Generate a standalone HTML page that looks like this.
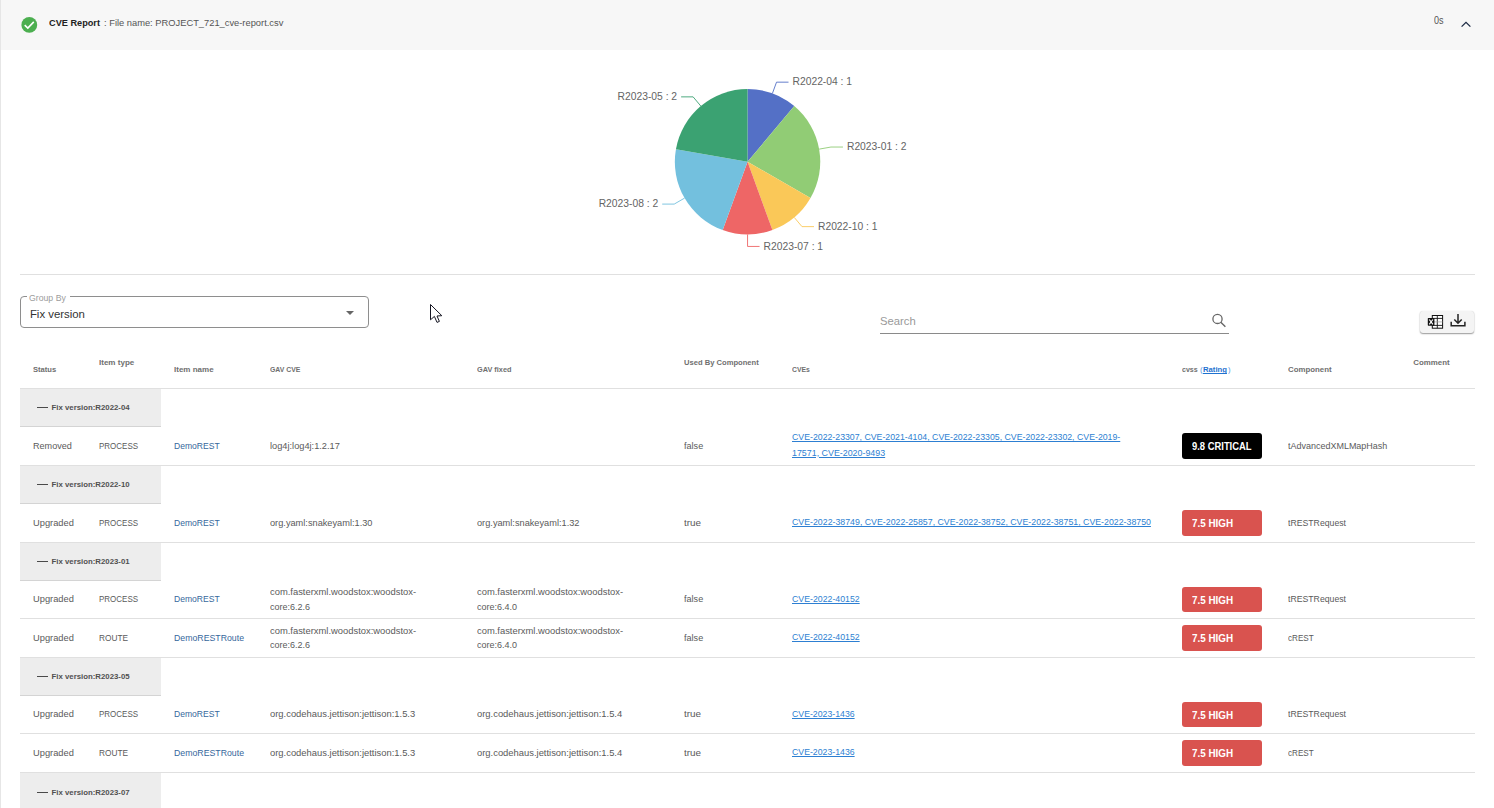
<!DOCTYPE html>
<html><head><meta charset="utf-8">
<style>
*{box-sizing:border-box;margin:0;padding:0}
html,body{width:1494px;height:808px;overflow:hidden;background:#fff}
body{position:relative;font-family:"Liberation Sans",sans-serif;color:#555}
.a{position:absolute}
.t{position:absolute;height:0;line-height:0;white-space:nowrap;transform-origin:0 0}
.hl{position:absolute;height:1px;background:#e0e0e0}
.grp{position:absolute;left:20px;width:141px;background:#ededed;border-bottom:1px solid #d4d4d4}
.dash{position:absolute;left:36.5px;width:11px;height:1px;background:#4a4a4a}
.bdg{position:absolute;left:1182px;width:80px;height:25.5px;border-radius:3px;background:#d9534f}
.crit{background:#000}
svg text{font-family:"Liberation Sans",sans-serif}
</style></head>
<body>
<div class="a" style="left:0;top:0;width:1px;height:808px;background:#e6e6e6"></div>
<div class="a" style="left:1px;top:0;width:1493px;height:49.5px;background:#f7f7f7"></div>
<svg class="a" style="left:21px;top:17px" width="17" height="17" viewBox="0 0 17 17">
<circle cx="8.3" cy="7.9" r="7.9" fill="#4caf50"/>
<path d="M3.7 8.2 L6.8 11.1 L12.8 4.9" fill="none" stroke="#fff" stroke-width="1.6"/>
</svg>
<svg class="a" style="left:1458px;top:18px" width="16" height="12"><polyline points="3.6,8.6 8,4.4 12.4,8.6" fill="none" stroke="#1c2a44" stroke-width="1.3"/></svg>

<svg class="a" style="left:0;top:0" width="1494" height="274">
<path d="M747.55 161.75 L747.55 89.05 A72.7 72.7 0 0 1 794.28 106.06 Z" fill="#5470c6"/>
<polyline points="772.41,93.43 776.52,82.16 788.52,82.16" fill="none" stroke="#5470c6" stroke-width="0.9"/>
<text x="792.52" y="85.36" text-anchor="start" font-size="10.3" fill="#646464">R2022-04 : 1</text>
<path d="M747.55 161.75 L794.28 106.06 A72.7 72.7 0 0 1 810.51 198.10 Z" fill="#91cc75"/>
<polyline points="819.15,149.13 830.96,147.04 842.96,147.04" fill="none" stroke="#91cc75" stroke-width="0.9"/>
<text x="846.96" y="150.24" text-anchor="start" font-size="10.3" fill="#646464">R2023-01 : 2</text>
<path d="M747.55 161.75 L810.51 198.10 A72.7 72.7 0 0 1 772.41 230.07 Z" fill="#fac858"/>
<polyline points="794.28,217.44 801.99,226.63 813.99,226.63" fill="none" stroke="#fac858" stroke-width="0.9"/>
<text x="817.99" y="229.83" text-anchor="start" font-size="10.3" fill="#646464">R2022-10 : 1</text>
<path d="M747.55 161.75 L772.41 230.07 A72.7 72.7 0 0 1 722.69 230.07 Z" fill="#ee6666"/>
<polyline points="747.55,234.45 747.55,246.45 759.55,246.45" fill="none" stroke="#ee6666" stroke-width="0.9"/>
<text x="763.55" y="249.65" text-anchor="start" font-size="10.3" fill="#646464">R2023-07 : 1</text>
<path d="M747.55 161.75 L722.69 230.07 A72.7 72.7 0 0 1 675.95 149.13 Z" fill="#73c0de"/>
<polyline points="684.59,198.10 674.20,204.10 662.20,204.10" fill="none" stroke="#73c0de" stroke-width="0.9"/>
<text x="658.20" y="207.30" text-anchor="end" font-size="10.3" fill="#646464">R2023-08 : 2</text>
<path d="M747.55 161.75 L675.95 149.13 A72.7 72.7 0 0 1 747.55 89.05 Z" fill="#3ba272"/>
<polyline points="700.82,106.06 693.11,96.87 681.11,96.87" fill="none" stroke="#3ba272" stroke-width="0.9"/>
<text x="677.11" y="100.07" text-anchor="end" font-size="10.3" fill="#646464">R2023-05 : 2</text>
</svg>

<div class="hl" style="left:20px;top:274px;width:1455px"></div>

<div class="a" style="left:20px;top:296px;width:349px;height:32px;border:1px solid #8e8e8e;border-radius:4px"></div>
<div class="a" style="left:26.5px;top:292px;width:43px;height:8px;background:#fff"></div>
<svg class="a" style="left:344px;top:309px" width="12" height="8"><polygon points="2,2 10,2 6,6" fill="#666"/></svg>

<div class="a" style="left:880px;top:333px;width:349px;height:1px;background:#8a8a8a"></div>
<svg class="a" style="left:1208px;top:309px" width="22" height="22">
<circle cx="9.5" cy="9.9" r="4.6" fill="none" stroke="#666" stroke-width="1.3"/>
<line x1="12.8" y1="13.3" x2="17.4" y2="17.8" stroke="#666" stroke-width="1.4"/>
</svg>

<div class="a" style="left:1420px;top:311px;width:54px;height:22px;border-radius:4px;background:#f4f4f4;border-radius:3px;box-shadow:0 1px 1.5px rgba(0,0,0,.4),0 0 1px rgba(0,0,0,.15)"></div>
<svg class="a" style="left:1420px;top:311px" width="54" height="22">
<rect x="12.3" y="4.5" width="10.3" height="12.7" fill="#fff" stroke="#111" stroke-width="1"/>
<line x1="17.3" y1="4.5" x2="17.3" y2="17.2" stroke="#111" stroke-width="0.9"/>
<line x1="12.3" y1="7.4" x2="22.6" y2="7.4" stroke="#111" stroke-width="0.9"/>
<line x1="12.3" y1="10.9" x2="22.6" y2="10.9" stroke="#999" stroke-width="0.7"/>
<line x1="12.3" y1="14.4" x2="22.6" y2="14.4" stroke="#111" stroke-width="0.9"/>
<rect x="7.8" y="7.1" width="6.6" height="7.6" rx="0.6" fill="#111"/>
<path d="M9.3 8.5 L12.9 13.3 M12.9 8.5 L9.3 13.3" stroke="#fff" stroke-width="1.2"/>
<path d="M38 3.1 V12.2 M34.3 8.5 L38 12.2 L41.7 8.5" fill="none" stroke="#222" stroke-width="1.5"/>
<path d="M31.2 10.8 V14.8 H44.9 V10.8" fill="none" stroke="#222" stroke-width="1.5"/>
</svg>

<div class="hl" style="left:20px;top:388px;width:1455px"></div>
<div class="grp" style="top:389px;height:38px"></div>
<div class="dash" style="top:407px"></div>
<div class="grp" style="top:466px;height:38px"></div>
<div class="dash" style="top:484px"></div>
<div class="grp" style="top:543px;height:38px"></div>
<div class="dash" style="top:561px"></div>
<div class="grp" style="top:658px;height:38px"></div>
<div class="dash" style="top:676px"></div>
<div class="grp" style="top:773px;height:39px"></div>
<div class="dash" style="top:792px"></div>
<div class="bdg crit" style="top:433.2px"></div>
<div class="hl" style="left:20px;top:465px;width:1455px"></div>
<div class="bdg" style="top:510.2px"></div>
<div class="hl" style="left:20px;top:542px;width:1455px"></div>
<div class="bdg" style="top:586.7px"></div>
<div class="hl" style="left:20px;top:618px;width:1455px"></div>
<div class="bdg" style="top:625.2px"></div>
<div class="hl" style="left:20px;top:657px;width:1455px"></div>
<div class="bdg" style="top:701.7px"></div>
<div class="hl" style="left:20px;top:733px;width:1455px"></div>
<div class="bdg" style="top:740.2px"></div>
<div class="hl" style="left:20px;top:772px;width:1455px"></div>
<div class="t" style="left:48.60px;top:23.30px;font-size:9.5px;color:#222;font-weight:700;transform:scaleX(0.966);">CVE Report</div>
<div class="t" style="left:104.20px;top:23.30px;font-size:9.6px;color:#555;transform:scaleX(0.972);">: File name: PROJECT_721_cve-report.csv</div>
<div class="t" style="left:1434.10px;top:20.70px;font-size:10px;color:#555;transform:scaleX(0.902);">0s</div>
<div class="t" style="left:28.90px;top:297.60px;font-size:8.6px;color:#9c9c9c;transform:scaleX(1.014);">Group By</div>
<div class="t" style="left:29.90px;top:313.70px;font-size:11.4px;color:#333;">Fix version</div>
<div class="t" style="left:879.90px;top:320.60px;font-size:11.5px;color:#9a9a9a;transform:scaleX(0.980);">Search</div>
<div class="t" style="left:32.70px;top:370.20px;font-size:7.9px;color:#6f6f6f;font-weight:700;transform:scaleX(0.964);">Status</div>
<div class="t" style="left:99.30px;top:363.30px;font-size:7.9px;color:#6f6f6f;font-weight:700;transform:scaleX(1.018);">Item type</div>
<div class="t" style="left:173.70px;top:370.20px;font-size:7.9px;color:#6f6f6f;font-weight:700;transform:scaleX(1.014);">Item name</div>
<div class="t" style="left:269.70px;top:370.20px;font-size:7.9px;color:#6f6f6f;font-weight:700;transform:scaleX(0.872);">GAV CVE</div>
<div class="t" style="left:476.70px;top:370.20px;font-size:7.9px;color:#6f6f6f;font-weight:700;transform:scaleX(0.928);">GAV fixed</div>
<div class="t" style="left:683.70px;top:363.40px;font-size:7.9px;color:#6f6f6f;font-weight:700;transform:scaleX(0.963);">Used By Component</div>
<div class="t" style="left:791.70px;top:370.20px;font-size:7.9px;color:#6f6f6f;font-weight:700;transform:scaleX(0.865);">CVEs</div>
<div class="t" style="left:1182.40px;top:370.20px;font-size:7.9px;color:#6f6f6f;font-weight:700;transform:scaleX(0.892);">cvss</div>
<div class="t" style="left:1287.70px;top:370.20px;font-size:7.9px;color:#6f6f6f;font-weight:700;transform:scaleX(0.994);">Component</div>
<div class="t" style="left:1413.30px;top:363.00px;font-size:7.9px;color:#6f6f6f;font-weight:700;">Comment</div>
<div class="t" style="left:1200.10px;top:369.70px;font-size:7.9px;color:#5a9be0;transform:scaleX(0.988);">(</div>
<div class="t" style="left:1203.20px;top:370.20px;font-size:7.9px;color:#1f72d0;font-weight:700;transform:scaleX(0.976);text-decoration:underline">Rating</div>
<div class="t" style="left:1227.90px;top:369.70px;font-size:7.9px;color:#5a9be0;transform:scaleX(0.988);">)</div>
<div class="t" style="left:51.60px;top:408.20px;font-size:7.8px;color:#505050;font-weight:700;">Fix version:R2022-04</div>
<div class="t" style="left:51.60px;top:485.20px;font-size:7.8px;color:#505050;font-weight:700;">Fix version:R2022-10</div>
<div class="t" style="left:51.60px;top:562.20px;font-size:7.8px;color:#505050;font-weight:700;">Fix version:R2023-01</div>
<div class="t" style="left:51.60px;top:677.20px;font-size:7.8px;color:#505050;font-weight:700;">Fix version:R2023-05</div>
<div class="t" style="left:51.60px;top:792.70px;font-size:7.8px;color:#505050;font-weight:700;">Fix version:R2023-07</div>
<div class="t" style="left:32.70px;top:445.90px;font-size:9.5px;color:#5a5a5a;transform:scaleX(0.956);">Removed</div>
<div class="t" style="left:99.30px;top:445.90px;font-size:9.5px;color:#5a5a5a;transform:scaleX(0.840);">PROCESS</div>
<div class="t" style="left:173.70px;top:445.90px;font-size:9.5px;color:#36679c;transform:scaleX(0.902);">DemoREST</div>
<div class="t" style="left:269.70px;top:445.90px;font-size:9.5px;color:#5a5a5a;transform:scaleX(0.972);">log4j:log4j:1.2.17</div>
<div class="t" style="left:792.00px;top:437.45px;font-size:9.0px;color:#2d7fd2;transform:scaleX(0.972);text-decoration:underline">CVE-2022-23307, CVE-2021-4104, CVE-2022-23305, CVE-2022-23302, CVE-2019-</div>
<div class="t" style="left:792.00px;top:452.65px;font-size:9.0px;color:#2d7fd2;transform:scaleX(0.985);text-decoration:underline">17571, CVE-2020-9493</div>
<div class="t" style="left:683.70px;top:445.90px;font-size:9.5px;color:#5a5a5a;transform:scaleX(0.957);">false</div>
<div class="t" style="left:1287.70px;top:445.90px;font-size:9.5px;color:#5a5a5a;transform:scaleX(0.945);">tAdvancedXMLMapHash</div>
<div class="t" style="left:1191.90px;top:447.40px;font-size:10.2px;color:#fff;font-weight:700;transform:scaleX(0.923);">9.8 CRITICAL</div>
<div class="t" style="left:32.70px;top:522.90px;font-size:9.5px;color:#5a5a5a;transform:scaleX(0.979);">Upgraded</div>
<div class="t" style="left:99.30px;top:522.90px;font-size:9.5px;color:#5a5a5a;transform:scaleX(0.840);">PROCESS</div>
<div class="t" style="left:173.70px;top:522.90px;font-size:9.5px;color:#36679c;transform:scaleX(0.902);">DemoREST</div>
<div class="t" style="left:269.70px;top:522.90px;font-size:9.5px;color:#5a5a5a;transform:scaleX(0.970);">org.yaml:snakeyaml:1.30</div>
<div class="t" style="left:476.70px;top:522.90px;font-size:9.5px;color:#5a5a5a;transform:scaleX(0.970);">org.yaml:snakeyaml:1.32</div>
<div class="t" style="left:792.00px;top:522.30px;font-size:9.0px;color:#2d7fd2;transform:scaleX(0.976);text-decoration:underline">CVE-2022-38749, CVE-2022-25857, CVE-2022-38752, CVE-2022-38751, CVE-2022-38750</div>
<div class="t" style="left:683.70px;top:522.90px;font-size:9.5px;color:#5a5a5a;transform:scaleX(1.041);">true</div>
<div class="t" style="left:1287.70px;top:522.90px;font-size:9.5px;color:#5a5a5a;transform:scaleX(0.915);">tRESTRequest</div>
<div class="t" style="left:1191.90px;top:524.40px;font-size:10.2px;color:#fff;font-weight:700;transform:scaleX(0.968);">7.5 HIGH</div>
<div class="t" style="left:32.70px;top:599.40px;font-size:9.5px;color:#5a5a5a;transform:scaleX(0.979);">Upgraded</div>
<div class="t" style="left:99.30px;top:599.40px;font-size:9.5px;color:#5a5a5a;transform:scaleX(0.840);">PROCESS</div>
<div class="t" style="left:173.70px;top:599.40px;font-size:9.5px;color:#36679c;transform:scaleX(0.902);">DemoREST</div>
<div class="t" style="left:269.70px;top:592.10px;font-size:9.5px;color:#5a5a5a;transform:scaleX(0.988);">com.fasterxml.woodstox:woodstox-</div>
<div class="t" style="left:269.70px;top:606.70px;font-size:9.5px;color:#5a5a5a;transform:scaleX(0.946);">core:6.2.6</div>
<div class="t" style="left:476.70px;top:592.10px;font-size:9.5px;color:#5a5a5a;transform:scaleX(0.988);">com.fasterxml.woodstox:woodstox-</div>
<div class="t" style="left:476.70px;top:606.70px;font-size:9.5px;color:#5a5a5a;transform:scaleX(0.946);">core:6.4.0</div>
<div class="t" style="left:792.00px;top:598.80px;font-size:9.0px;color:#2d7fd2;transform:scaleX(0.973);text-decoration:underline">CVE-2022-40152</div>
<div class="t" style="left:683.70px;top:599.40px;font-size:9.5px;color:#5a5a5a;transform:scaleX(0.957);">false</div>
<div class="t" style="left:1287.70px;top:599.40px;font-size:9.5px;color:#5a5a5a;transform:scaleX(0.915);">tRESTRequest</div>
<div class="t" style="left:1191.90px;top:600.90px;font-size:10.2px;color:#fff;font-weight:700;transform:scaleX(0.968);">7.5 HIGH</div>
<div class="t" style="left:32.70px;top:637.90px;font-size:9.5px;color:#5a5a5a;transform:scaleX(0.979);">Upgraded</div>
<div class="t" style="left:99.30px;top:637.90px;font-size:9.5px;color:#5a5a5a;transform:scaleX(0.874);">ROUTE</div>
<div class="t" style="left:173.70px;top:637.90px;font-size:9.5px;color:#36679c;transform:scaleX(0.921);">DemoRESTRoute</div>
<div class="t" style="left:269.70px;top:630.60px;font-size:9.5px;color:#5a5a5a;transform:scaleX(0.988);">com.fasterxml.woodstox:woodstox-</div>
<div class="t" style="left:269.70px;top:645.20px;font-size:9.5px;color:#5a5a5a;transform:scaleX(0.946);">core:6.2.6</div>
<div class="t" style="left:476.70px;top:630.60px;font-size:9.5px;color:#5a5a5a;transform:scaleX(0.988);">com.fasterxml.woodstox:woodstox-</div>
<div class="t" style="left:476.70px;top:645.20px;font-size:9.5px;color:#5a5a5a;transform:scaleX(0.946);">core:6.4.0</div>
<div class="t" style="left:792.00px;top:637.30px;font-size:9.0px;color:#2d7fd2;transform:scaleX(0.973);text-decoration:underline">CVE-2022-40152</div>
<div class="t" style="left:683.70px;top:637.90px;font-size:9.5px;color:#5a5a5a;transform:scaleX(0.957);">false</div>
<div class="t" style="left:1287.70px;top:637.90px;font-size:9.5px;color:#5a5a5a;transform:scaleX(0.854);">cREST</div>
<div class="t" style="left:1191.90px;top:639.40px;font-size:10.2px;color:#fff;font-weight:700;transform:scaleX(0.968);">7.5 HIGH</div>
<div class="t" style="left:32.70px;top:714.40px;font-size:9.5px;color:#5a5a5a;transform:scaleX(0.979);">Upgraded</div>
<div class="t" style="left:99.30px;top:714.40px;font-size:9.5px;color:#5a5a5a;transform:scaleX(0.840);">PROCESS</div>
<div class="t" style="left:173.70px;top:714.40px;font-size:9.5px;color:#36679c;transform:scaleX(0.902);">DemoREST</div>
<div class="t" style="left:269.70px;top:714.40px;font-size:9.5px;color:#5a5a5a;transform:scaleX(0.989);">org.codehaus.jettison:jettison:1.5.3</div>
<div class="t" style="left:476.70px;top:714.40px;font-size:9.5px;color:#5a5a5a;transform:scaleX(0.989);">org.codehaus.jettison:jettison:1.5.4</div>
<div class="t" style="left:792.00px;top:713.80px;font-size:9.0px;color:#2d7fd2;transform:scaleX(0.970);text-decoration:underline">CVE-2023-1436</div>
<div class="t" style="left:683.70px;top:714.40px;font-size:9.5px;color:#5a5a5a;transform:scaleX(1.041);">true</div>
<div class="t" style="left:1287.70px;top:714.40px;font-size:9.5px;color:#5a5a5a;transform:scaleX(0.915);">tRESTRequest</div>
<div class="t" style="left:1191.90px;top:715.90px;font-size:10.2px;color:#fff;font-weight:700;transform:scaleX(0.968);">7.5 HIGH</div>
<div class="t" style="left:32.70px;top:752.90px;font-size:9.5px;color:#5a5a5a;transform:scaleX(0.979);">Upgraded</div>
<div class="t" style="left:99.30px;top:752.90px;font-size:9.5px;color:#5a5a5a;transform:scaleX(0.874);">ROUTE</div>
<div class="t" style="left:173.70px;top:752.90px;font-size:9.5px;color:#36679c;transform:scaleX(0.921);">DemoRESTRoute</div>
<div class="t" style="left:269.70px;top:752.90px;font-size:9.5px;color:#5a5a5a;transform:scaleX(0.989);">org.codehaus.jettison:jettison:1.5.3</div>
<div class="t" style="left:476.70px;top:752.90px;font-size:9.5px;color:#5a5a5a;transform:scaleX(0.989);">org.codehaus.jettison:jettison:1.5.4</div>
<div class="t" style="left:792.00px;top:752.30px;font-size:9.0px;color:#2d7fd2;transform:scaleX(0.970);text-decoration:underline">CVE-2023-1436</div>
<div class="t" style="left:683.70px;top:752.90px;font-size:9.5px;color:#5a5a5a;transform:scaleX(1.041);">true</div>
<div class="t" style="left:1287.70px;top:752.90px;font-size:9.5px;color:#5a5a5a;transform:scaleX(0.854);">cREST</div>
<div class="t" style="left:1191.90px;top:754.40px;font-size:10.2px;color:#fff;font-weight:700;transform:scaleX(0.968);">7.5 HIGH</div>

<svg class="a" style="left:429.3px;top:303.1px" width="16" height="22" viewBox="0 0 16 22">
<path d="M1.5 1.5 L1.5 16.8 L5.4 13.4 L8 19.4 L10.4 18.4 L8 13 L12.8 12.7 Z" fill="#fff" stroke="#161622" stroke-width="1" stroke-linejoin="round"/>
</svg>
</body></html>
